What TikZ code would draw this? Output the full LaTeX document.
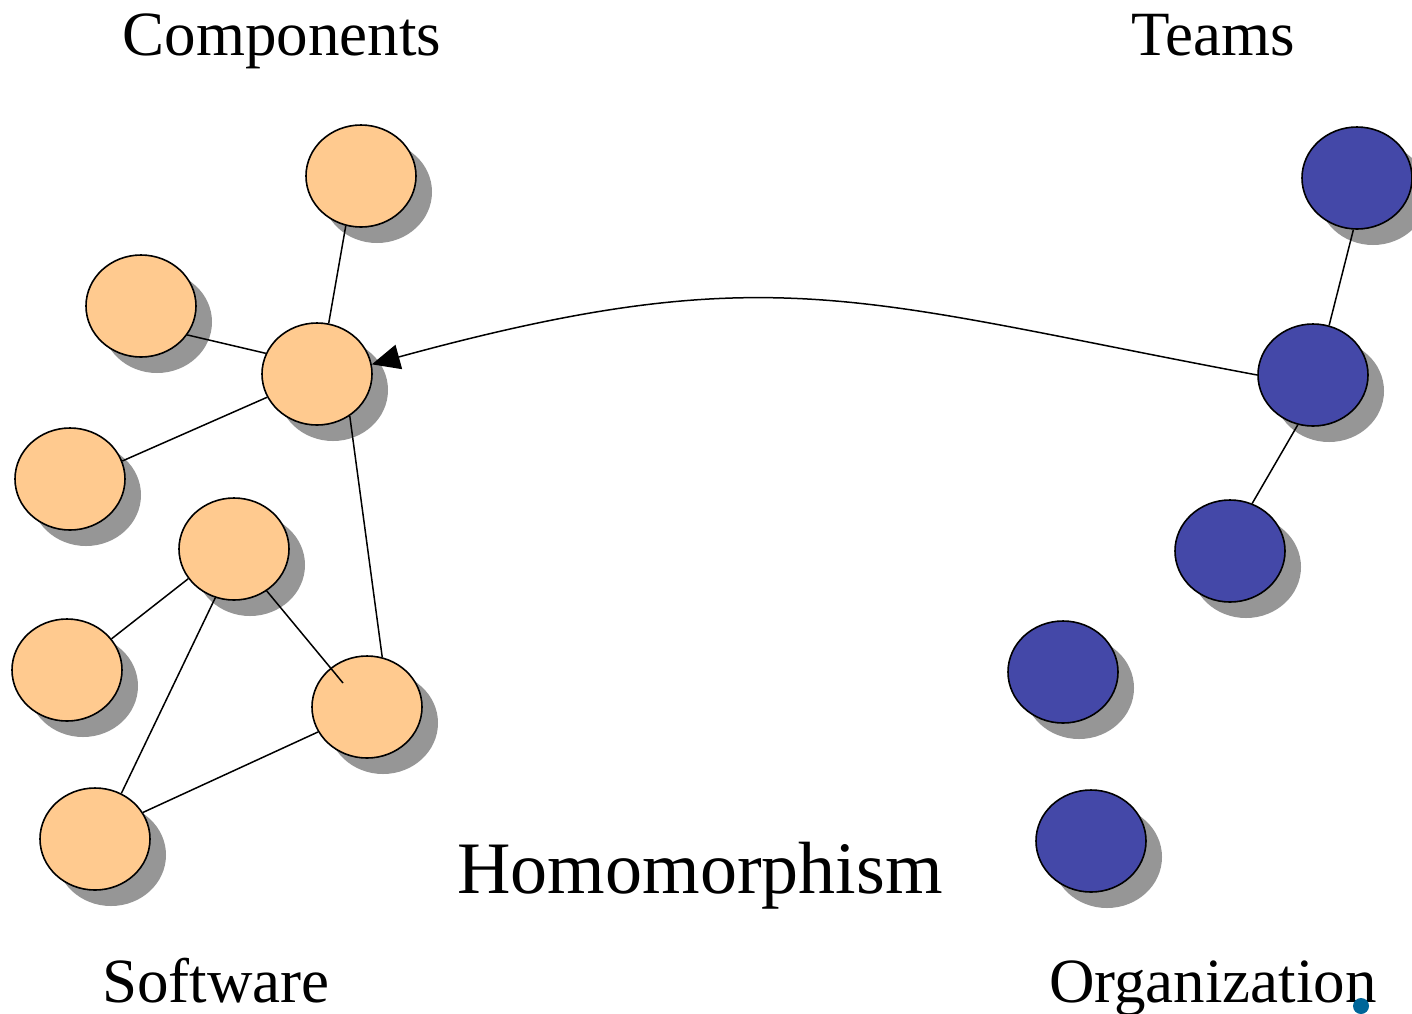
\documentclass[tikz,border=0pt]{standalone}
\usepackage{fontspec}
\setmainfont{Liberation Serif}
\usetikzlibrary{shapes.geometric,shadows,arrows.meta}
\definecolor{comp}{RGB}{255,202,143}
\definecolor{team}{RGB}{68,72,168}
\definecolor{shade}{RGB}{150,150,150}
\definecolor{dotc}{RGB}{0,102,153}
\tikzset{
  vert/.style={ellipse,draw=black,line width=1.6pt,minimum width=110pt,minimum height=102pt,inner sep=0pt,
    drop shadow={shadow xshift=16pt,shadow yshift=-16pt,fill=shade,opacity=1}},
  compv/.style={vert,fill=comp},
  teamv/.style={vert,fill=team},
  edge/.style={line width=1.5pt,black},
  lbl/.style={anchor=base,inner sep=0pt,font=\fontsize{63}{70}\selectfont},
  biglbl/.style={anchor=base,inner sep=0pt,font=\fontsize{74}{80}\selectfont}
}
\begin{document}
\begin{tikzpicture}[x=1pt,y=-1pt]
\useasboundingbox (0,0) rectangle (1412,1013);
% component nodes
\node[compv] (A) at (361,176) {};
\node[compv] (B) at (141,306) {};
\node[compv] (C) at (317,374) {};
\node[compv] (D) at (70,479) {};
\node[compv] (E) at (234,549) {};
\node[compv] (F) at (67,670) {};
\node[compv] (G) at (367,707) {};
\node[compv] (H) at (95,839) {};
% team nodes
\node[teamv] (T1) at (1357,178) {};
\node[teamv] (T2) at (1313,375) {};
\node[teamv] (T3) at (1230,551) {};
\node[teamv] (T4) at (1063,672) {};
\node[teamv] (T5) at (1091,841) {};
% edges
\draw[edge] (A.-107) -- (C.77);
\draw[edge] (B.-32) -- (C.158);
\draw[edge] (C.205) -- (D.19);
\draw[edge] (C.-52) -- (G.73);
\draw[edge] (E.213) -- (F.35);
\draw[edge] (E.249) -- (H.60.5);
\draw[edge] (E.-52.5) -- (G.133);
\coordinate (gtail) at (343,683);
\draw[line width=1.5pt,shade] (G.133) -- (gtail);
\draw[edge] (G.207.5) -- (H.29);
\draw[edge] (T1.266.7) -- (T2.72.6);
\draw[edge] (T2.253) -- (T3.65.4);
% homomorphism arrow
\draw[edge,-{Triangle[length=28pt,width=25pt]}] (T2.180) .. controls (857,300) and (772,255) .. (C.10);
% labels
\node[lbl] (lcomp) at (282,55) {Components};
\node[lbl] (lteams) at (1213,55) {Teams};
\node[biglbl] (lhom) at (700,893) {Homomorphism};
\node[lbl] (lsoft) at (216,1002) {Software};
\node[lbl] (lorg) at (1213,1002) {Organization};
\fill[dotc] (1361,1006) circle (8);
\end{tikzpicture}
\end{document}
